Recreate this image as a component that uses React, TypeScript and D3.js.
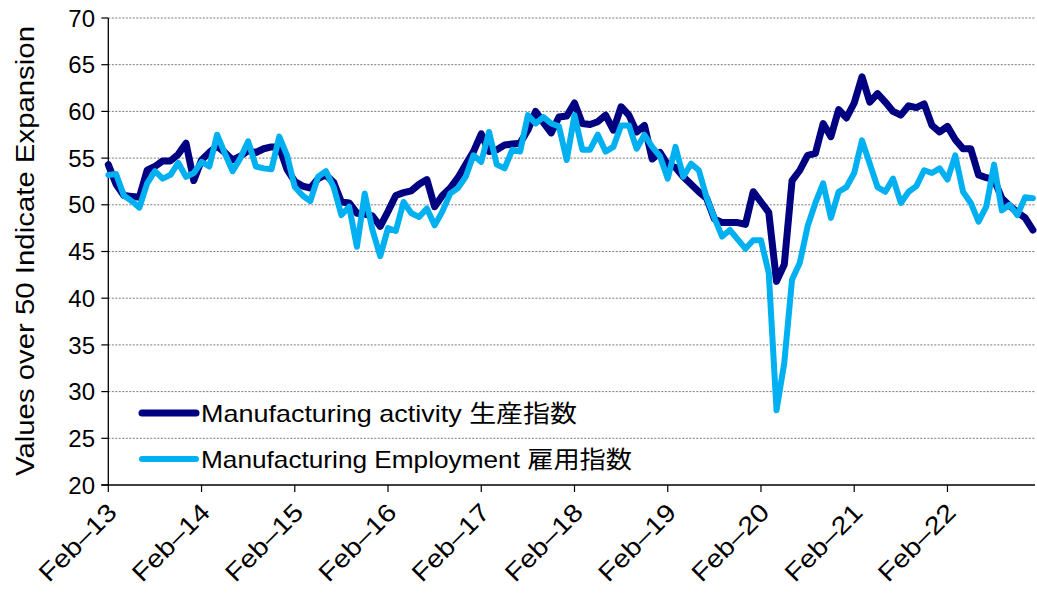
import React, { useEffect } from "react";
import * as d3 from "d3";

const activity: number[] = [
  54.3, 52.2, 51.0, 50.9, 50.8, 53.7, 54.1, 54.7, 54.7, 55.4, 56.6, 52.6,
  54.8, 55.6, 56.3, 55.6, 54.8, 55.2, 55.8, 55.6, 56.0, 56.2, 56.2, 53.8,
  52.5, 52.0, 51.8, 52.8, 53.2, 52.4, 50.3, 50.2, 49.1, 49.0, 48.8, 47.7,
  49.3, 51.0, 51.3, 51.5, 52.2, 52.7, 49.8, 51.0, 51.8, 52.9, 54.3, 55.7,
  57.6, 55.7, 55.9, 56.4, 56.5, 56.6, 58.0, 60.0, 58.8, 57.7, 59.4, 59.5,
  60.9, 58.7, 58.6, 58.9, 59.6, 58.0, 60.5, 59.6, 57.8, 58.5, 54.9, 55.6,
  54.3, 54.0, 53.0, 52.2, 51.4, 50.7, 48.5, 48.1, 48.1, 48.1, 47.9, 51.4,
  50.3, 49.2, 41.8, 43.6, 52.6, 53.7, 55.3, 55.5, 58.7, 57.3, 60.2, 59.3,
  60.9, 63.7, 61.0, 61.9, 61.0, 60.0, 59.6, 60.6, 60.4, 60.8, 58.5, 57.8,
  58.4, 57.0, 56.0, 56.0, 53.2, 52.9, 52.7, 50.7, 49.9, 49.2, 48.6, 47.3,
];

const employment: number[] = [
  53.2, 53.3, 51.0, 50.4, 49.7, 52.3, 53.6, 52.8, 53.2, 54.5, 53.0, 53.4,
  54.6, 54.1, 57.5, 55.5, 53.6, 55.0, 56.8, 54.1, 53.9, 53.8, 57.3, 55.3,
  51.9, 51.0, 50.4, 53.0, 53.6, 51.9, 48.9, 49.8, 45.5, 51.2, 47.3, 44.5,
  47.5, 47.2, 50.3, 49.1, 48.7, 49.6, 47.8, 49.3, 51.2, 51.8, 53.0, 55.3,
  54.6, 57.8, 54.3, 53.9, 55.9, 55.7, 59.6, 58.7, 59.4, 58.7, 58.4, 54.8,
  59.6, 55.9, 55.9, 57.5, 55.7, 56.2, 58.5, 58.5, 56.0, 57.5, 56.2, 55.2,
  52.8, 56.2, 53.0, 54.4, 53.7, 50.8, 48.6, 46.6, 47.3, 46.3, 45.3, 46.2,
  46.2, 42.7, 28.0, 33.1, 42.0, 43.8, 47.7, 50.2, 52.3, 48.6, 51.4, 51.9,
  53.4, 56.9, 54.4, 51.9, 51.4, 52.8, 50.2, 51.4, 52.0, 53.7, 53.4, 53.9,
  52.7, 55.3, 51.4, 50.2, 48.2, 49.8, 54.3, 49.4, 50.0, 48.9, 50.8, 50.7,
];

const xTickLabels: string[] = [
  "Feb–13", "Feb–14", "Feb–15", "Feb–16", "Feb–17",
  "Feb–18", "Feb–19", "Feb–20", "Feb–21", "Feb–22",
];
const yTicks: number[] = [20, 25, 30, 35, 40, 45, 50, 55, 60, 65, 70];

const seriesNames: string[] = [
  "Manufacturing activity 生産指数",
  "Manufacturing Employment 雇用指数",
];
const seriesColors: string[] = ["#000080", "#00B0F0"];

const yTitle = "Values over 50 Indicate Expansion";

const FONT = '"Liberation Sans", Arial, "Noto Sans CJK JP", sans-serif';

export default function App() {
  useEffect(() => {
    document.body.style.margin = "0";
    document.body.style.overflow = "hidden";
  }, []);

  const W = 1037;
  const H = 598;
  const left = 108.3;
  const right = 1035;
  const top = 18;
  const bottom = 485;
  const n = activity.length;

  const x = d3.scaleLinear().domain([0, n - 1]).range([left, left + 7.77 * (n - 1)]);
  const y = d3.scaleLinear().domain([20, 70]).range([bottom, top]);

  const line = d3
    .line<number>()
    .x((_, i) => x(i))
    .y((d) => y(d));

  const xTickIdx = xTickLabels.map((_, k) => k * 12);

  return (
    <svg width={W} height={H} style={{ display: "block", position: "absolute", left: 0, top: 0 }} fontFamily={FONT}>
      <rect x={0} y={0} width={W} height={H} fill="#fff" />
      {/* gridlines */}
      {yTicks.filter((t) => t > 20).map((t) => (
        <line key={"g" + t} x1={left} x2={right} y1={y(t)} y2={y(t)} stroke="#7a7a7a" strokeWidth={1} strokeDasharray="2 1.5" />
      ))}
      {/* y axis */}
      <line x1={left} x2={left} y1={top} y2={bottom} stroke="#000" strokeWidth={1.3} />
      {yTicks.map((t) => (
        <g key={"yt" + t}>
          <line x1={left - 7} x2={left} y1={y(t)} y2={y(t)} stroke="#000" strokeWidth={1.2} />
          <text x={95} y={y(t)} dy="0.36em" textAnchor="end" fontSize={24} fill="#000">{t}</text>
        </g>
      ))}
      {/* x axis */}
      <line x1={left - 7} x2={right} y1={bottom} y2={bottom} stroke="#000" strokeWidth={1.3} />
      {xTickIdx.map((idx, k) => (
        <g key={"xt" + k}>
          <line x1={x(idx)} x2={x(idx)} y1={bottom} y2={bottom + 7} stroke="#000" strokeWidth={1.2} />
          <text
            transform={`translate(${x(idx) + 10},${bottom + 29}) rotate(-45)`}
            textAnchor="end"
            fontSize={25}
            fill="#000"
            textLength={98}
            lengthAdjust="spacingAndGlyphs"
          >
            {xTickLabels[k]}
          </text>
        </g>
      ))}
      {/* y title */}
      <text
        transform={`translate(${34},${251}) rotate(-90)`}
        textAnchor="middle"
        fontSize={25}
        fill="#000"
        textLength={450}
        lengthAdjust="spacingAndGlyphs"
      >
        {yTitle}
      </text>
      {/* series */}
      <path d={line(activity) || ""} fill="none" stroke={seriesColors[0]} strokeWidth={7} strokeLinejoin="round" strokeLinecap="round" />
      <path d={line(employment) || ""} fill="none" stroke={seriesColors[1]} strokeWidth={6} strokeLinejoin="round" strokeLinecap="round" />
      {/* legend */}
      {seriesNames.map((name, k) => {
        const ly = k === 0 ? 413 : 459;
        return (
          <g key={"lg" + k}>
            <line x1={142} x2={196} y1={ly} y2={ly} stroke={seriesColors[k]} strokeWidth={k === 0 ? 7 : 6} strokeLinecap="round" />
            <text x={201} y={ly + 9} fontSize={24} fill="#000" textLength={k === 0 ? 376 : 431} lengthAdjust="spacingAndGlyphs">
              {name}
            </text>
          </g>
        );
      })}
    </svg>
  );
}
